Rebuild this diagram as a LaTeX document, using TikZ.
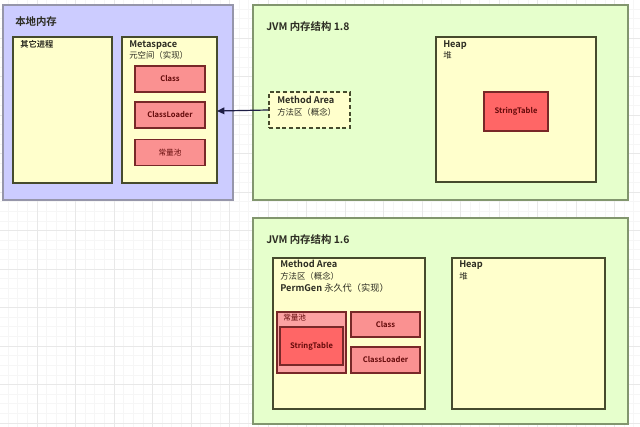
\documentclass[tikz,border=0pt]{standalone}
\usepackage{fontspec}
\setmainfont{Noto Sans CJK SC}[BoldFont={Noto Sans CJK SC Bold}]
\usetikzlibrary{arrows.meta}
\definecolor{lav}{RGB}{204,204,255}
\definecolor{lavline}{RGB}{150,150,170}
\definecolor{grn}{RGB}{230,255,204}
\definecolor{grnline}{RGB}{130,150,110}
\definecolor{ylw}{RGB}{255,255,204}
\definecolor{boxline}{RGB}{70,75,45}
\definecolor{pinkfill}{RGB}{250,145,145}
\definecolor{redfill}{RGB}{255,102,102}
\definecolor{redline}{RGB}{120,40,40}
\definecolor{txt}{RGB}{45,45,35}
\definecolor{redtxt}{RGB}{100,10,10}
\definecolor{gridminor}{RGB}{246,246,246}
\definecolor{gridmajor}{RGB}{232,232,232}
\definecolor{arrowc}{RGB}{30,30,70}
\tikzset{
  x=0.75pt,y=-0.75pt,
  outer/.style={draw=#1,line width=1pt},
  ybox/.style={draw=boxline,fill=ylw,line width=1.1pt},
  rbox/.style={draw=redline,fill=pinkfill,line width=0.9pt},
  sbox/.style={draw=redline,fill=redfill,line width=0.9pt},
  lbl/.style={anchor=north west,inner sep=0pt,text=txt,font=\bfseries\fontsize{6.9}{8}\selectfont},
  lbln/.style={anchor=north west,inner sep=0pt,text=txt,font=\fontsize{6.3}{7.5}\selectfont},
  ttl/.style={anchor=north west,inner sep=0pt,text=txt,font=\bfseries\fontsize{7.8}{9}\selectfont},
  rtxt/.style={text=redtxt,font=\bfseries\fontsize{5.7}{6.5}\selectfont,inner sep=0pt},
}
\begin{document}
\begin{tikzpicture}
\useasboundingbox (0,0) rectangle (640,427);
\fill[white] (0,0) rectangle (640,427);
% grid
\foreach \i in {0,...,67}{\draw[gridminor,line width=0.4pt] ({-1.5+9.625*\i},0) -- ({-1.5+9.625*\i},427);}
\foreach \i in {0,...,45}{\draw[gridminor,line width=0.4pt] (0,{-0.5+9.625*\i}) -- (640,{-0.5+9.625*\i});}
\foreach \i in {0,...,17}{\draw[gridmajor,line width=0.5pt] ({-1.5+38.5*\i},0) -- ({-1.5+38.5*\i},427);}
\foreach \i in {0,...,11}{\draw[gridmajor,line width=0.5pt] (0,{-0.5+38.5*\i}) -- (640,{-0.5+38.5*\i});}

% ---------- 本地内存 ----------
\draw[outer=lavline,fill=lav] (3,5) rectangle (233,200);
\node[ttl] (native) at (15,16) {本地内存};
\draw[ybox] (13,37) rectangle (112,183);
\node[lbln,font=\bfseries\fontsize{6.2}{7.5}\selectfont] (other) at (20,40) {其它进程};
\draw[ybox] (122,37) rectangle (217,183);
\coordinate (metaR) at (217,111);
\node[lbl] (meta) at (129,40) {Metaspace};
\node[lbln] (meta2) at (129,51) {元空间（实现）};
\node[rbox,minimum width=52.5pt,minimum height=19.5pt,rtxt] (cls1) at (170,79) {Class};
\node[rbox,minimum width=52.5pt,minimum height=19.5pt,rtxt] (cl1) at (170,115) {ClassLoader};
\node[rbox,minimum width=52.5pt,minimum height=19.5pt,rtxt,font=\fontsize{5.7}{6.5}\selectfont] (pool1) at (170,152.5) {常量池};

% ---------- JVM 1.8 ----------
\draw[outer=grnline,fill=grn] (253,5) rectangle (628,200);
\node[ttl] (jvm8) at (266,21) {JVM 内存结构 1.8};
\node[draw=boxline,dashed,dash pattern=on 3pt off 2pt,line width=1.1pt,fill=ylw,minimum width=60.75pt,minimum height=27pt,inner sep=0pt] (ma8) at (309.5,110) {};
\node[lbl] (ma8t) at (277,96) {Method Area};
\node[lbln] (ma8t2) at (277,108) {方法区（概念）};
\draw[ybox] (436,37) rectangle (596,182);
\node[lbl] (heap8) at (443,40) {Heap};
\node[lbln] (heap8b) at (443,51) {堆};
\node[sbox,minimum width=48pt,minimum height=29.25pt,rtxt] (st8) at (516,111.5) {StringTable};
\draw[arrowc,line width=0.9pt,-{Triangle[length=5.5pt,width=5pt]}] (ma8.west) -- (metaR);

% ---------- JVM 1.6 ----------
\draw[outer=grnline,fill=grn] (253,218) rectangle (628,424);
\node[ttl] (jvm6) at (266,234) {JVM 内存结构 1.6};
\draw[ybox] (273,258) rectangle (425,409);
\node[lbl] (ma6) at (280,260) {Method Area};
\node[lbln] (ma6b) at (280,272) {方法区（概念）};
\node[lbl] (ma6c) at (280,283) {PermGen \mdseries 永久代（实现）};
\draw[ybox] (452,258) rectangle (605,409);
\node[lbl] (heap6) at (459,260) {Heap};
\node[lbln] (heap6b) at (459,272) {堆};
\draw[rbox,fill=pinkfill!85!white] (277,312) rectangle (346,373);
\node[lbln,text=redtxt,font=\fontsize{5.7}{6.5}\selectfont] (pool6) at (283,314) {常量池};
\node[sbox,minimum width=47.25pt,minimum height=28.5pt,rtxt] (st6) at (311.5,346) {StringTable};
\node[rbox,minimum width=51.75pt,minimum height=18.75pt,rtxt] (cls6) at (385.5,324.5) {Class};
\node[rbox,minimum width=51.75pt,minimum height=19.5pt,rtxt] (cl6) at (385.5,360) {ClassLoader};
\end{tikzpicture}
\end{document}
